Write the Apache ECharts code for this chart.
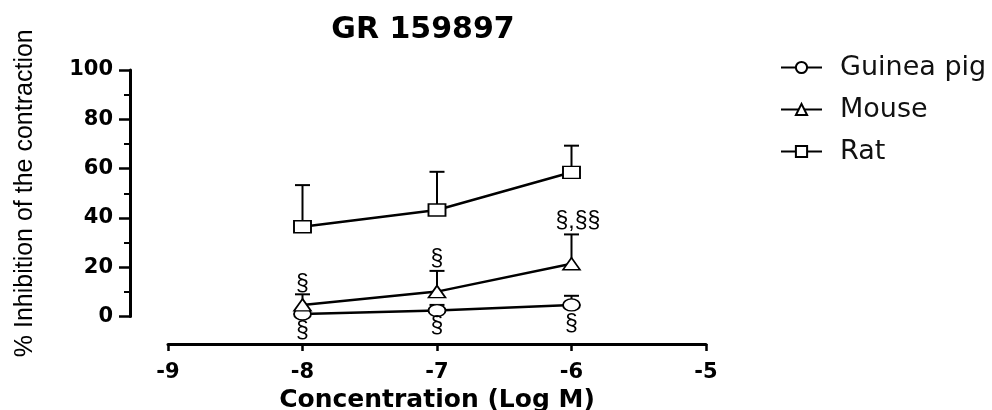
<!DOCTYPE html>
<html>
<head>
<meta charset="utf-8">
<script src="https://cdn.jsdelivr.net/npm/echarts@6/dist/echarts.min.js"></script>
<style>
    html, body {margin: 0; padding: 0; background: #fff;}
    #main {width: 992px; height: 410px;}
</style>
</head>
<body>
<div id="main"></div>
<script>
    // x 值 (Log M)
    var concentrations = [-8, -7, -6];
    // 平均值
    var guineaPig = [1.0, 2.4, 4.7];
    var mouse = [4.7, 10.1, 21.4];
    var rat = [36.4, 43.2, 58.5];
    // 误差线顶部 (mean + SEM)
    var guineaPigTop = [null, 4.7, 8.4];
    var mouseTop = [9.0, 18.5, 33.3];
    var ratTop = [53.3, 58.7, 69.3];
    // § 标记
    var markX = [-8, -8, -7, -7, -6, -6];
    var markY = [12.8, -6.2, 22.9, -4.2, 38.5, -3.4];
    var markText = ['§', '§', '§', '§', '§,§§', '§'];
    // 坐标轴刻度
    var xTicks = [-9, -8, -7, -6, -5];
    var yTicks = [0, 20, 40, 60, 80, 100];

    var lineFont = 'DejaVu Sans';

    function pairs(xs, ys) {
        var out = [];
        for (var i = 0; i < xs.length; i++) {
            out.push([xs[i], ys[i]]);
        }
        return out;
    }

    // 误差线数据 [x, mean, top]
    var errData = [];
    [[guineaPig, guineaPigTop], [mouse, mouseTop], [rat, ratTop]].forEach(function (s) {
        for (var i = 0; i < concentrations.length; i++) {
            if (s[1][i] != null) {
                errData.push([concentrations[i], s[0][i], s[1][i]]);
            }
        }
    });

    var markData = [];
    for (var i = 0; i < markX.length; i++) {
        markData.push([markX[i], markY[i], markText[i]]);
    }

    function lineSeries(name, symbol, ys) {
        return {
            name: name,
            type: 'line',
            data: pairs(concentrations, ys),
            symbol: symbol,
            symbolSize: [17, 12],
            z: 3,
            lineStyle: {color: '#000', width: 2.5},
            itemStyle: {color: '#fff', borderColor: '#000', borderWidth: 1.6},
            emphasis: {disabled: true}
        };
    }

    var option = {
        backgroundColor: '#fff',
        animation: false,
        title: {
            text: 'GR 159897',
            left: 418,
            top: 10,
            textAlign: 'center',
            textStyle: {fontFamily: lineFont, fontWeight: 'bold', fontSize: 30, color: '#000'}
        },
        legend: {
            orient: 'vertical',
            left: 775,
            top: 49,
            itemWidth: 41,
            itemHeight: 14,
            itemGap: 15,
            data: ['Guinea pig', 'Mouse', 'Rat'],
            textStyle: {
                fontFamily: lineFont, fontSize: 27, color: '#111',
                lineHeight: 27, padding: [0, 0, 0, 13]
            }
        },
        grid: {left: 168, right: 286, top: 70, bottom: 93.5, outerBoundsMode: 'none'},
        xAxis: {
            type: 'value',
            min: xTicks[0],
            max: xTicks[xTicks.length - 1],
            interval: 1,
            offset: 27.5,
            splitLine: {show: false},
            axisLine: {show: true, onZero: false, lineStyle: {color: '#000', width: 3}},
            axisTick: {show: true, length: 7, lineStyle: {color: '#000', width: 2.5}},
            axisLabel: {
                margin: 18,
                fontFamily: lineFont, fontWeight: 'bold', fontSize: 21, color: '#000'
            },
            name: 'Concentration (Log M)',
            nameLocation: 'middle',
            nameGap: 42,
            nameTextStyle: {fontFamily: lineFont, fontWeight: 'bold', fontSize: 25, color: '#000'}
        },
        yAxis: {
            type: 'value',
            min: yTicks[0],
            max: yTicks[yTicks.length - 1],
            interval: 20,
            offset: 38,
            splitLine: {show: false},
            axisLine: {show: true, onZero: false, lineStyle: {color: '#000', width: 3}},
            axisTick: {show: true, length: 11, lineStyle: {color: '#000', width: 2.5}},
            minorTick: {show: true, splitNumber: 2, length: 6, lineStyle: {color: '#000', width: 2}},
            axisLabel: {
                margin: 17,
                fontFamily: lineFont, fontWeight: 'bold', fontSize: 21, color: '#000'
            },
            name: '% Inhibition of the contraction',
            nameLocation: 'middle',
            nameGap: 92,
            nameTextStyle: {fontFamily: 'Liberation Sans', fontSize: 25, color: '#000'}
        },
        series: [
            {
                type: 'custom',
                name: 'err',
                z: 1,
                data: errData,
                renderItem: function (params, api) {
                    var x = api.value(0);
                    var base = api.coord([x, api.value(1)]);
                    var top = api.coord([x, api.value(2)]);
                    var half = 7.5;
                    var st = {stroke: '#000', lineWidth: 2, fill: null};
                    return {
                        type: 'group',
                        children: [
                            {type: 'line', shape: {x1: base[0], y1: base[1], x2: top[0], y2: top[1]}, style: st},
                            {type: 'line', shape: {x1: top[0] - half, y1: top[1], x2: top[0] + half, y2: top[1]}, style: st}
                        ]
                    };
                }
            },
            lineSeries('Guinea pig', 'circle', guineaPig),
            lineSeries('Mouse', 'triangle', mouse),
            lineSeries('Rat', 'rect', rat),
            {
                type: 'custom',
                name: 'marks',
                z: 4,
                data: markData,
                renderItem: function (params, api) {
                    var p = api.coord([api.value(0), api.value(1)]);
                    var txt = markData[params.dataIndex][2];
                    var multi = txt.length > 1;
                    return {
                        type: 'text',
                        style: {
                            text: txt,
                            x: multi ? p[0] - 16 : p[0],
                            y: p[1],
                            align: multi ? 'left' : 'center',
                            verticalAlign: 'middle',
                            font: '23px "Liberation Sans"',
                            fill: '#000'
                        }
                    };
                }
            }
        ]
    };

    var myChart = echarts.init(document.getElementById('main'));
    myChart.setOption(option);
</script>
</body>
</html>
